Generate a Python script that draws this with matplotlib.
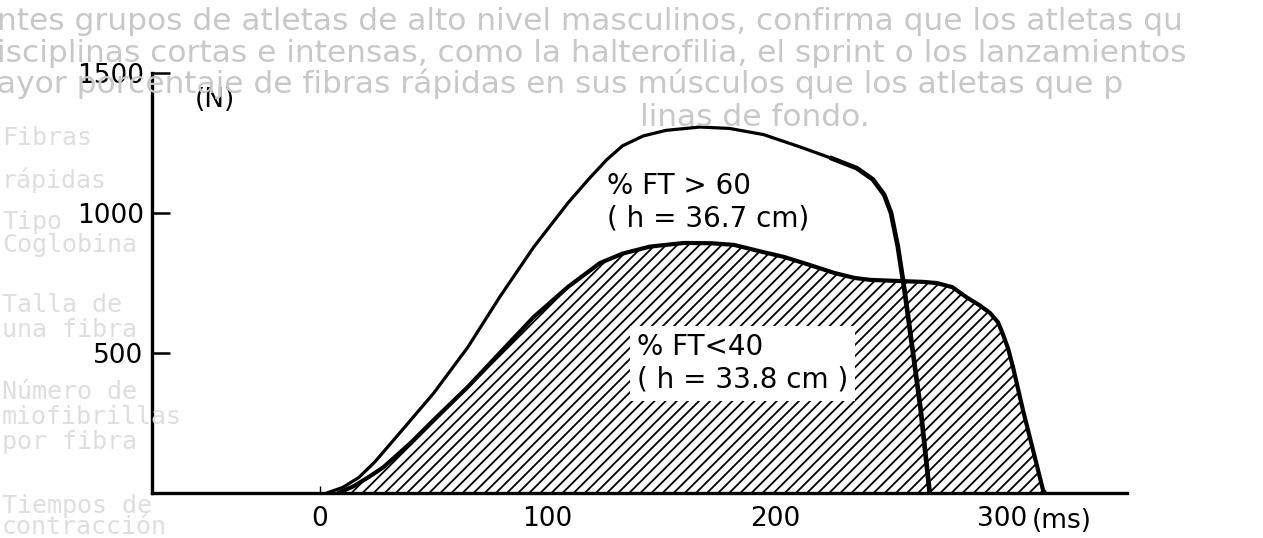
import matplotlib
matplotlib.use("Agg")
import matplotlib.pyplot as plt

# force-time curves of a vertical jump
t_ft60 = [3, 10, 17, 24, 35, 50, 65, 79, 94, 109, 118, 126, 133, 142, 152, 167, 180,
          195, 211, 225, 236, 243, 248, 251, 254, 257, 260, 264, 268]
f_ft60 = [0, 20, 55, 110, 214, 357, 521, 700, 879, 1036, 1120, 1190, 1240, 1275, 1295,
          1307, 1302, 1280, 1236, 1195, 1160, 1120, 1065, 1000, 880, 720, 540, 300, 0]

t_ft40 = [8, 15, 22, 28, 40, 50, 65, 79, 94, 109, 123, 133, 145, 160, 172, 182, 195,
          204, 215, 226, 235, 242, 255, 265, 271, 278, 284, 290, 294.5, 298, 300, 302.5,
          304.6, 309, 313.4, 317.8, 318.7]
f_ft40 = [0, 25, 60, 93, 180, 261, 379, 500, 629, 736, 821, 855, 880, 893, 892, 886, 860,
          843, 815, 786, 768, 761, 757, 754, 750, 735, 700, 670, 643, 610, 571, 515,
          450, 296, 154, 11, 0]

label_ft60 = "% FT > 60\n( h = 36.7 cm)"
label_ft40 = "% FT<40\n( h = 33.8 cm )"

x_ticks = [0, 100, 200, 300]
x_ticklabels = ["0", "100", "200", "300"]
y_ticks = [500, 1000, 1500]

# faint text from the book page behind the figure
ghost_lines = [
    "ntes grupos de atletas de alto nivel masculinos, confirma que los atletas qu",
    "isciplinas cortas e intensas, como la halterofilia, el sprint o los lanzamientos",
    "ayor porcentaje de fibras rápidas en sus músculos que los atletas que p",
]
ghost_last = "linas de fondo."
ghost_left = ["Fibras", "rápidas", "Tipo", "Coglobina", "Talla de", "una fibra",
              "Número de", "miofibrillas", "por fibra", "Tiempos de", "contracción"]
ghost_left_y = [138, 180, 222, 245, 305, 330, 392, 417, 442, 506, 527]

plt.rcParams['hatch.linewidth'] = 1.3
plt.rcParams['font.family'] = ['DejaVu Sans']

fig = plt.figure(figsize=(12.63, 5.38), dpi=100)
W, H = 1263.0, 538.0

for i, s in enumerate(ghost_lines):
    fig.text(-0.002, 1 - (22 + 31 * i) / H, s, fontsize=22.5, color="#c8c8c8",
             va="center", ha="left", zorder=0)
fig.text(640 / W, 1 - 117 / H, ghost_last, fontsize=22.5, color="#c8c8c8",
         va="center", ha="left", zorder=0)
for s, yy in zip(ghost_left, ghost_left_y):
    fig.text(2 / W, 1 - yy / H, s, fontsize=18, color="#dedede",
             family="DejaVu Sans Mono", va="center", ha="left", zorder=0)

ax = fig.add_axes([152 / W, (H - 493) / H, (1127 - 152) / W, (493 - 73) / H])
ax.patch.set_alpha(0)

x0 = (152 - 320) / 2.275
x1 = (1127 - 320) / 2.275
ax.set_xlim(x0, x1)
ax.set_ylim(0, 1500)

ax.fill_between(t_ft40, f_ft40, 0, facecolor="white", edgecolor="black",
                hatch="///", linewidth=0, zorder=2)
ax.plot(t_ft40, f_ft40, color="black", lw=3.0, zorder=4, solid_capstyle="round",
        solid_joinstyle="round")
ax.plot(t_ft60, f_ft60, color="black", lw=2.3, zorder=5, solid_capstyle="round",
        solid_joinstyle="round")
ax.plot(t_ft60[19:], f_ft60[19:], color="black", lw=3.4, zorder=5,
        solid_joinstyle="round")

ax.text(126.2, 1040, label_ft60, fontsize=20, ha="left", va="center",
        linespacing=1.2, zorder=6)
ax.text(139.3, 462, label_ft40, fontsize=20, ha="left", va="center",
        linespacing=1.2, zorder=6,
        bbox=dict(boxstyle="square,pad=0.25", facecolor="white", edgecolor="none"))

ax.text(-46, 1404, "(N)", fontsize=19, ha="center", va="center", zorder=6)
ax.text(313, -100, "(ms)", fontsize=19, ha="left", va="center", clip_on=False)

for side in ["top", "right"]:
    ax.spines[side].set_visible(False)
for side in ["left", "bottom"]:
    ax.spines[side].set_linewidth(2.4)
    ax.spines[side].set_zorder(7)

ax.set_yticks(y_ticks)
ax.set_yticklabels([str(v) for v in y_ticks])
ax.tick_params(axis="y", direction="in", length=13, width=1.8, labelsize=19, pad=6)
ax.set_xticks(x_ticks)
ax.set_xticklabels(x_ticklabels)
ax.tick_params(axis="x", direction="in", length=5, width=1.0, labelsize=19, pad=9)

fig.savefig("out.png", dpi=100, facecolor="white")
